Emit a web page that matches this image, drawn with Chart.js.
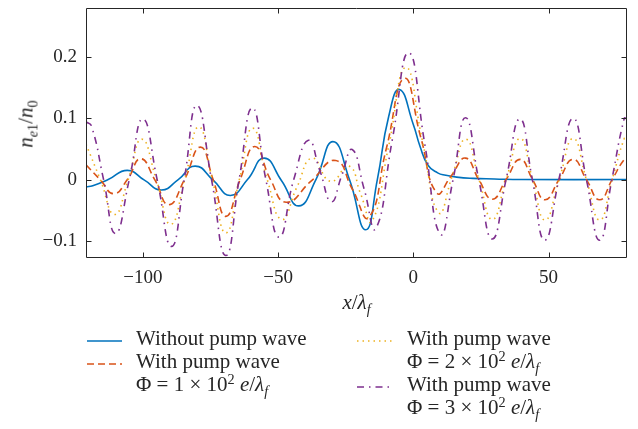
<!DOCTYPE html>
<html>
<head>
<meta charset="utf-8">
<script src="https://cdn.jsdelivr.net/npm/chart.js@4.4.1/dist/chart.umd.min.js"></script>
<style>
  body { margin: 0; background: #fff; }
  #wrap { position: relative; width: 638px; height: 429px; font-family: "Liberation Serif", "DejaVu Serif", serif; color: #262626; }
  #chart { position: absolute; left: 0; top: 0; }
  .lbl { position: absolute; font-size: 21px; line-height: 21px; white-space: nowrap; }
  .leg { position: absolute; font-size: 21px; line-height: 23px; white-space: nowrap; }
  .legline { position: absolute; }
  sub, sup { font-size: 0.68em; line-height: 0; position: relative; vertical-align: baseline; }
  sub { top: 0.32em; }
  sup { top: -0.5em; }
</style>
</head>
<body>
<div id="wrap">
  <canvas id="chart" width="638" height="429"></canvas>
  <div class="lbl" id="ytitle"><i>n</i><sub><i>e</i>1</sub>/<i>n</i><sub>0</sub></div>
  <div class="lbl" id="xtitle"><i>x</i>/<i>λ</i><sub><i>f</i></sub></div>
  <div id="legend"></div>
</div>
<script>
// axis ticks
const xTickValues = [-100, -50, 0, 50];
const yTickValues = [-0.1, 0, 0.1, 0.2];

// without pump wave
const xNoPump = [-121, -118.5, -112.8, -105.7, -99.4, -93.1, -86.9, -80.6, -74, -67.6, -61.3, -55.1, -48.7, -42.3, -36, -29.7, -23.6, -17.6, -13.3, -9.1, -5.1, 0, 2.5, 5.5, 9, 12, 16, 22, 30, 40, 79];
const yNoPump = [-0.012, -0.010, 0, 0.015, -0.001, -0.017, 0, 0.022, -0.001, -0.026, 0, 0.035, -0.002, -0.043, 0, 0.062, 0, -0.082, 0, 0.103, 0.147, 0.09, 0.054, 0.023, 0.011, 0.007, 0.004, 0.002, 0.001, 0, 0];

// pump wave, phi = 1e2
const xPump1 = [-121, -115.8, -110.7, -105.7, -100.8, -95.6, -90.4, -84.6, -78.7, -74, -69.3, -64, -58.6, -52.8, -47, -37.9, -28.7, -22.6, -16.5, -9.9, -3.3, 2.7, 8.7, 14, 19.3, 24.2, 29.2, 34.3, 39.5, 44.1, 48.7, 53.9, 59.1, 64, 68.9, 73.5, 78, 79];
const yPump1 = [0.024, 0, -0.023, 0, 0.034, 0, -0.041, 0, 0.053, 0, -0.060, 0, 0.054, 0, -0.037, -0.003, 0.031, -0.015, -0.062, 0.052, 0.165, 0.07, -0.022, 0.006, 0.035, 0, -0.032, 0, 0.033, 0, -0.033, 0, 0.033, 0, -0.033, 0, 0.033, 0.032];

// pump wave, phi = 2e2
const xPump2 = [-121, -115.7, -110.4, -105.4, -100.4, -95, -89.7, -84.5, -79.3, -74.3, -69.3, -64.3, -59.4, -54, -48.6, -43, -37.4, -30.6, -23.8, -19.5, -15.3, -9, -2.8, 3.3, 9.4, 14.4, 19.4, 24.3, 29.2, 34.3, 39.5, 44.1, 48.7, 53.9, 59.1, 64, 68.9, 73.5, 78, 79];
const yPump2 = [0.058, 0, -0.057, 0, 0.066, 0, -0.073, 0, 0.086, 0, -0.087, 0, 0.084, 0, -0.065, -0.012, 0.035, -0.003, 0.022, -0.023, -0.068, 0.057, 0.183, 0.065, -0.054, 0.006, 0.066, 0, -0.065, 0, 0.067, 0, -0.066, 0, 0.067, 0, -0.066, 0, 0.067, 0.066];

// pump wave, phi = 3e2
const xPump3 = [-121, -119, -114.5, -110.1, -105, -100, -94.7, -89.4, -84.7, -80, -74.6, -69.3, -64.4, -59.5, -54.5, -49.6, -44.2, -38.8, -34.5, -30.3, -26.5, -22.6, -18.2, -13.9, -7.8, -1.7, 4.2, 10, 14.7, 19.3, 24.2, 29.2, 34.3, 39.4, 44, 48.6, 53.8, 59.1, 64, 68.9, 73.4, 78, 79];
const yPump3 = [0.094, 0.088, 0, -0.088, 0, 0.099, 0, -0.109, 0, 0.121, 0, -0.124, 0, 0.117, 0, -0.094, 0, 0.064, 0.014, -0.036, 0.006, 0.049, -0.015, -0.080, 0.064, 0.207, 0.059, -0.089, 0, 0.101, 0, -0.097, 0, 0.099, 0, -0.099, 0, 0.100, 0, -0.099, 0, 0.100, 0.099];

const fontFamily = '"Liberation Serif", "DejaVu Serif", serif';
const axisColor = '#262626';

const toPoints = (xs, ys) => xs.map((x, i) => ({ x: x, y: ys[i] }));
const minus = v => (v < 0 ? '\u2212' + Math.abs(v) : String(v));

const series = [
    { label: 'Without pump wave', x: xNoPump, y: yNoPump, color: '#0072BD', dash: [], width: 1.6, order: 4,
      legend: { col: 0, row: 0, html: 'Without pump wave' } },
    { label: 'With pump wave Φ = 1 × 10² e/λf', x: xPump1, y: yPump1, color: '#D95319', dash: [7, 4], width: 1.6, order: 3,
      legend: { col: 0, row: 1, html: 'With pump wave<br>Φ = 1 × 10<sup>2</sup> <i>e</i>/<i>λ</i><sub><i>f</i></sub>' } },
    { label: 'With pump wave Φ = 2 × 10² e/λf', x: xPump2, y: yPump2, color: '#EDB120', dash: [1.5, 4], width: 1.6, order: 2,
      legend: { col: 1, row: 0, html: 'With pump wave<br>Φ = 2 × 10<sup>2</sup> <i>e</i>/<i>λ</i><sub><i>f</i></sub>' } },
    { label: 'With pump wave Φ = 3 × 10² e/λf', x: xPump3, y: yPump3, color: '#7E2F8E', dash: [7, 5, 1.5, 5], width: 1.6, order: 1,
      legend: { col: 1, row: 2, html: 'With pump wave<br>Φ = 3 × 10<sup>2</sup> <i>e</i>/<i>λ</i><sub><i>f</i></sub>' } }
];

// frame + inward tick marks on all four sides
const frameAndTicks = {
    id: 'frameAndTicks',
    afterDatasetsDraw(chart) {
        const { ctx, chartArea: a, scales: { x, y } } = chart;
        const L = Math.round(a.left) + 0.5, R = Math.round(a.right) - 0.5;
        const T = Math.round(a.top) + 0.5, B = Math.round(a.bottom) - 0.5;
        ctx.save();
        ctx.strokeStyle = axisColor;
        ctx.lineWidth = 1;
        ctx.beginPath();
        xTickValues.forEach(v => {
            const px = Math.round(x.getPixelForValue(v)) + 0.5;
            ctx.moveTo(px, B); ctx.lineTo(px, B - 5);
            ctx.moveTo(px, T); ctx.lineTo(px, T + 5);
        });
        yTickValues.forEach(v => {
            const py = Math.round(y.getPixelForValue(v)) + 0.5;
            ctx.moveTo(L, py); ctx.lineTo(L + 5, py);
            ctx.moveTo(R, py); ctx.lineTo(R - 5, py);
        });
        ctx.rect(L, T, R - L, B - T);
        ctx.stroke();
        ctx.restore();
    }
};

new Chart(document.getElementById('chart'), {
    type: 'line',
    data: {
        datasets: series.map(s => ({
            label: s.label,
            data: toPoints(s.x, s.y),
            borderColor: s.color,
            borderWidth: s.width,
            borderDash: s.dash,
            pointRadius: 0,
            fill: false,
            tension: 0.5,
            order: s.order
        }))
    },
    options: {
        responsive: false,
        animation: false,
        devicePixelRatio: 1,
        layout: { padding: { top: 8, right: 11, left: 0, bottom: 0 } },
        plugins: {
            legend: { display: false },
            tooltip: { enabled: false }
        },
        scales: {
            x: {
                type: 'linear',
                min: -121,
                max: 79,
                grid: { display: false, drawTicks: false },
                border: { display: false },
                afterBuildTicks: s => { s.ticks = xTickValues.map(v => ({ value: v })); },
                afterFit: s => { s.height = 171; s.paddingLeft = 0; s.paddingRight = 0; },
                ticks: {
                    padding: 9,
                    color: axisColor,
                    font: { family: fontFamily, size: 19 },
                    maxRotation: 0,
                    callback: v => minus(v)
                }
            },
            y: {
                type: 'linear',
                min: -0.128,
                max: 0.28,
                grid: { display: false, drawTicks: false },
                border: { display: false },
                afterBuildTicks: s => { s.ticks = yTickValues.map(v => ({ value: v })); },
                afterFit: s => { s.width = 86; s.paddingTop = 0; s.paddingBottom = 0; },
                ticks: {
                    padding: 9,
                    color: axisColor,
                    font: { family: fontFamily, size: 19 },
                    callback: v => minus(Math.round(v * 10) / 10)
                }
            }
        }
    },
    plugins: [frameAndTicks]
});

// axis titles
const xt = document.getElementById('xtitle');
xt.style.left = '86px';
xt.style.width = '541px';
xt.style.textAlign = 'center';
xt.style.top = '292px';

const yt = document.getElementById('ytitle');
yt.style.left = '26px';
yt.style.top = '124px';
yt.style.transform = 'translate(-50%, -50%) rotate(-90deg)';

// legend
const legendBox = document.getElementById('legend');
const colLineX = [87, 357];
const colTextX = [136, 407];
const rowTop = 327, rowH = 23;
series.forEach(s => {
    const top = rowTop + s.legend.row * rowH;
    const svg = document.createElementNS('http://www.w3.org/2000/svg', 'svg');
    svg.setAttribute('width', '36');
    svg.setAttribute('height', '6');
    svg.setAttribute('class', 'legline');
    svg.style.left = colLineX[s.legend.col] + 'px';
    svg.style.top = (top + 11) + 'px';
    const ln = document.createElementNS('http://www.w3.org/2000/svg', 'line');
    ln.setAttribute('x1', '0'); ln.setAttribute('x2', '35');
    ln.setAttribute('y1', '3'); ln.setAttribute('y2', '3');
    ln.setAttribute('stroke', s.color);
    ln.setAttribute('stroke-width', s.width);
    if (s.dash.length) ln.setAttribute('stroke-dasharray', s.dash.join(' '));
    svg.appendChild(ln);
    legendBox.appendChild(svg);

    const t = document.createElement('div');
    t.className = 'leg';
    t.style.left = colTextX[s.legend.col] + 'px';
    t.style.top = top + 'px';
    t.innerHTML = s.legend.html;
    legendBox.appendChild(t);
});
</script>
</body>
</html>
